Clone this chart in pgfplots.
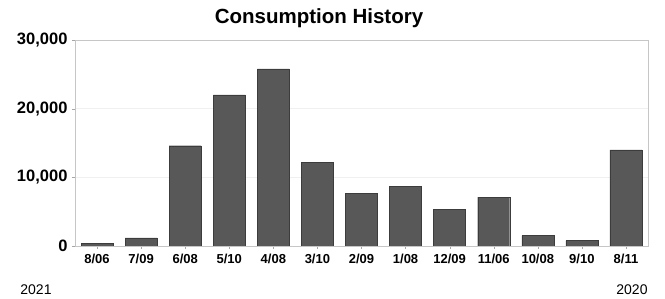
\documentclass[border=0pt]{standalone}
\usepackage{fontspec}
\setmainfont{Liberation Sans}
\usepackage{pgfplots}
\pgfplotsset{compat=1.18}
\definecolor{barfill}{RGB}{88,88,88}
\definecolor{baredge}{RGB}{60,60,60}
\begin{document}
\begin{tikzpicture}
\begin{axis}[
  at={(0,0)}, anchor=south west,
  width=573pt, height=206pt, scale only axis,
  xmin=-0.5, xmax=12.5, ymin=0, ymax=30000,
  ytick={0,10000,20000,30000},
  xtick={0,...,12},
  xticklabels={8/06,7/09,6/08,5/10,4/08,3/10,2/09,1/08,12/09,11/06,10/08,9/10,8/11},
  /pgf/number format/.cd, 1000 sep={,}, assume math mode=true,
  /pgfplots/.cd,
  scaled y ticks=false,
  ybar, bar width=32pt,
  axis line style={gray!45},
  ymajorgrids, grid style={gray!12},
  tick pos=left, tick align=outside, major tick length=3pt,
  tick style={gray!70},
  yticklabel style={font=\bfseries\fontsize{16.5}{16.5}\selectfont, xshift=-1pt},
  xticklabel style={font=\bfseries\fontsize{13}{13}\selectfont, yshift=-2pt},
]
\addplot[fill=barfill, draw=baredge] coordinates {
 (0,400) (1,1200) (2,14600) (3,22000) (4,25800) (5,12200) (6,7700)
 (7,8700) (8,5300) (9,7100) (10,1500) (11,800) (12,14000)};
\end{axis}
\node[font=\bfseries\fontsize{20.5}{20.5}\selectfont] at (244pt,228pt) {Consumption History};
\node[font=\fontsize{14}{14}\selectfont] at (-39pt,-44pt) {2021};
\node[font=\fontsize{14}{14}\selectfont] at (557pt,-44pt) {2020};
\pgfresetboundingbox
\path[use as bounding box] (-75pt,-53pt) rectangle (590pt,246pt);
\end{tikzpicture}
\end{document}
